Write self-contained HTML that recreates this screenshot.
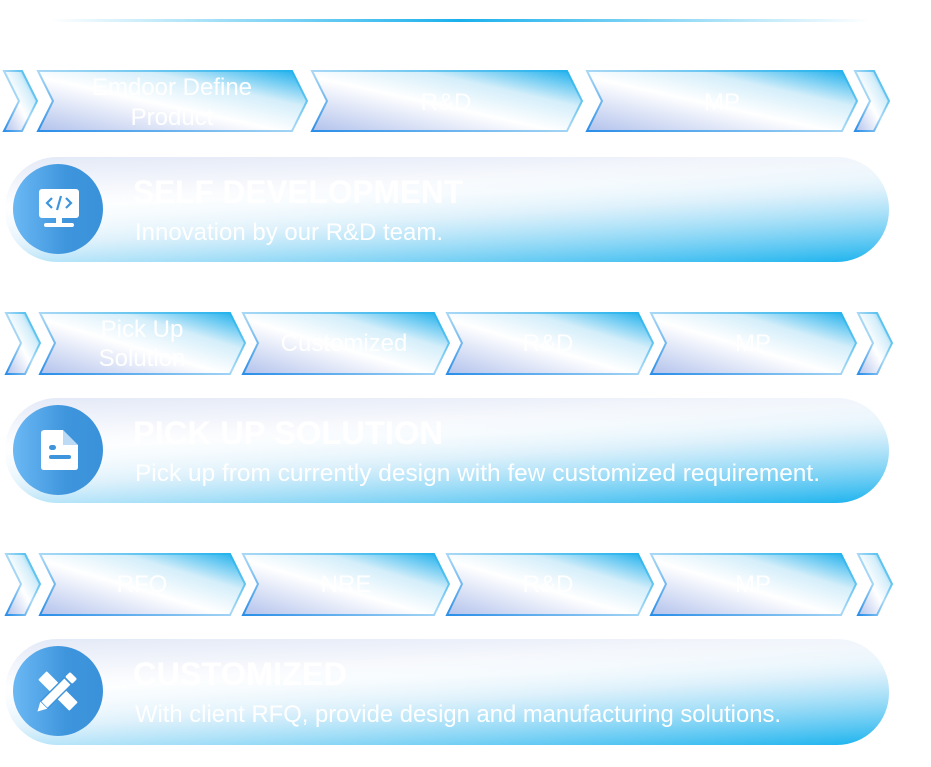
<!DOCTYPE html>
<html><head><meta charset="utf-8"><style>
html,body{margin:0;padding:0;background:#fff;}
svg{display:block;}
text{font-family:"Liberation Sans",sans-serif;fill:#fff;}
</style></head><body>
<svg width="931" height="767" viewBox="0 0 931 767" xmlns="http://www.w3.org/2000/svg">
<defs>
<linearGradient id="topl" x1="0" x2="1"><stop offset="0" stop-color="#1ab0ec" stop-opacity="0"/><stop offset="0.5" stop-color="#1ab0ec"/><stop offset="1" stop-color="#1ab0ec" stop-opacity="0"/></linearGradient>
<linearGradient id="chev" x1="0" y1="1" x2="1" y2="0" gradientUnits="objectBoundingBox">
<stop offset="0" stop-color="#b2c2ec"/><stop offset="0.45" stop-color="#ffffff"/><stop offset="0.7" stop-color="#d4eefa"/><stop offset="1" stop-color="#16adec"/></linearGradient>
<linearGradient id="chevs" x1="0" y1="1" x2="1" y2="0"><stop offset="0" stop-color="#2a8ee8"/><stop offset="0.5" stop-color="#a9d8f5"/><stop offset="1" stop-color="#1ab0ec"/></linearGradient>
<linearGradient id="pill" x1="0" y1="0" x2="0.25" y2="1">
<stop offset="0" stop-color="#e3e9f7"/><stop offset="0.45" stop-color="#ffffff"/><stop offset="1" stop-color="#ffffff"/></linearGradient>
<linearGradient id="pill2" x1="0.5" y1="0.1" x2="1" y2="1">
<stop offset="0" stop-color="#ffffff" stop-opacity="0"/><stop offset="0.4" stop-color="#d2ecfa" stop-opacity="0.7"/><stop offset="1" stop-color="#18b2ee"/></linearGradient>
<linearGradient id="circ" x1="0" x2="1"><stop offset="0" stop-color="#6bb8f4"/><stop offset="0.6" stop-color="#3e95dc"/><stop offset="1" stop-color="#3a92da"/></linearGradient>
</defs>
<rect x="50" y="19" width="820" height="3" fill="url(#topl)"/>

<g stroke="url(#chevs)" stroke-width="2" fill="url(#chev)">
<path d="M4 71 L22 71 L37 101 L22 131 L4 131 L19 101 Z"/>
<path d="M38 71 L292 71 L307 101 L292 131 L38 131 L53 101 Z"/>
<path d="M312 71 L567 71 L582 101 L567 131 L312 131 L327 101 Z"/>
<path d="M587 71 L842 71 L857 101 L842 131 L587 131 L602 101 Z"/>
<path d="M855 71 L874 71 L889 101 L874 131 L855 131 L870 101 Z"/>
<path d="M6 313 L25 313 L40 343 L25 374 L6 374 L21 343 Z"/>
<path d="M40 313 L230 313 L245 343 L230 374 L40 374 L55 343 Z"/>
<path d="M243 313 L434 313 L449 343 L434 374 L243 374 L258 343 Z"/>
<path d="M447 313 L638 313 L653 343 L638 374 L447 374 L462 343 Z"/>
<path d="M651 313 L841 313 L856 343 L841 374 L651 374 L666 343 Z"/>
<path d="M858 313 L877 313 L892 343 L877 374 L858 374 L873 343 Z"/>
<path d="M6 554 L25 554 L40 584 L25 615 L6 615 L21 584 Z"/>
<path d="M40 554 L230 554 L245 584 L230 615 L40 615 L55 584 Z"/>
<path d="M243 554 L434 554 L449 584 L434 615 L243 615 L258 584 Z"/>
<path d="M447 554 L638 554 L653 584 L638 615 L447 615 L462 584 Z"/>
<path d="M651 554 L841 554 L856 584 L841 615 L651 615 L666 584 Z"/>
<path d="M858 554 L877 554 L892 584 L877 615 L858 615 L873 584 Z"/>
</g>

<g font-size="24" text-anchor="middle">
<text x="172" y="95">Emdoor Define</text><text x="172" y="125">Product</text>
<text x="446" y="110">R&amp;D</text>
<text x="722" y="110">MP</text>
<text x="142" y="337">Pick Up</text><text x="142" y="366">Solution</text>
<text x="344" y="351">Customized</text>
<text x="548" y="351">R&amp;D</text>
<text x="753" y="351">MP</text>
<text x="142" y="592">RFQ</text>
<text x="346" y="592">NRE</text>
<text x="548" y="592">R&amp;D</text>
<text x="753" y="592">MP</text>
</g>

<g>
<rect x="5" y="157" width="884" height="105" rx="52" fill="url(#pill)"/>
<rect x="5" y="157" width="884" height="105" rx="52" fill="url(#pill2)"/>
<rect x="5" y="398" width="884" height="105" rx="52" fill="url(#pill)"/>
<rect x="5" y="398" width="884" height="105" rx="52" fill="url(#pill2)"/>
<rect x="5" y="639" width="884" height="106" rx="52" fill="url(#pill)"/>
<rect x="5" y="639" width="884" height="106" rx="52" fill="url(#pill2)"/>
</g>
<circle cx="58" cy="209" r="45" fill="url(#circ)"/>
<circle cx="58" cy="450" r="45" fill="url(#circ)"/>
<circle cx="58" cy="691" r="45" fill="url(#circ)"/>

<g fill="#fff">
<rect x="39" y="189" width="40" height="29" rx="3"/>
<rect x="56" y="218" width="6" height="5"/>
<rect x="44" y="223" width="30" height="4" rx="2"/>
<path d="M52 198 L47 203 L52 208" stroke="#3e95dc" stroke-width="2.2" fill="none"/>
<path d="M66 198 L71 203 L66 208" stroke="#3e95dc" stroke-width="2.2" fill="none"/>
<path d="M61 196 L57 210" stroke="#3e95dc" stroke-width="2.2"/>

<path d="M45 430 L63 430 L78 445 L78 467 Q78 470 75 470 L44 470 Q41 470 41 467 L41 433 Q41 430 45 430 Z"/>
<path d="M63 430 L63 445 L78 445" fill="#3e95dc" opacity="0.35"/>
<rect x="49" y="445" width="7" height="5" rx="2.5" fill="#3e95dc"/>
<rect x="49" y="455" width="22" height="4" rx="2" fill="#3e95dc"/>

<g transform="translate(58 691) rotate(45)">
<rect x="-22" y="-6" width="44" height="12" rx="1"/>
</g>
<g transform="translate(58 691) rotate(-45)">
<rect x="-20" y="-5" width="34" height="10" rx="1" stroke="#3e95dc" stroke-width="1.5"/>
<path d="M-20 -5 L-29 0 L-20 5 Z"/>
<rect x="15" y="-5" width="7" height="10" rx="1.5"/>
</g>
</g>

<g>
<text x="133" y="203" font-size="32" font-weight="bold" textLength="330" lengthAdjust="spacingAndGlyphs">SELF DEVELOPMENT</text>
<text x="135" y="240" font-size="24" textLength="308" lengthAdjust="spacingAndGlyphs">Innovation by our R&amp;D team.</text>
<text x="133" y="444" font-size="32" font-weight="bold" textLength="310" lengthAdjust="spacingAndGlyphs">PICK UP SOLUTION</text>
<text x="135" y="481" font-size="24" textLength="685" lengthAdjust="spacingAndGlyphs">Pick up from currently design with few customized requirement.</text>
<text x="133" y="685" font-size="32" font-weight="bold" textLength="214" lengthAdjust="spacingAndGlyphs">CUSTOMIZED</text>
<text x="135" y="722" font-size="24" textLength="646" lengthAdjust="spacingAndGlyphs">With client RFQ, provide design and manufacturing solutions.</text>
</g>
</svg>
</body></html>
